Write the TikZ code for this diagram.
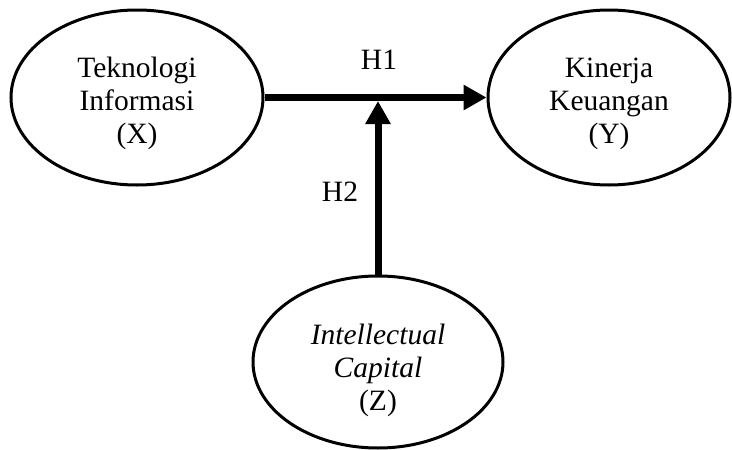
\documentclass[tikz,border=0pt]{standalone}
\usepackage{fontspec}
\setmainfont{Liberation Serif}
\usetikzlibrary{shapes.geometric,arrows.meta,calc}
\begin{document}
\begin{tikzpicture}[x=1pt,y=-1pt,
  var/.style={draw=black, line width=3pt, ellipse, inner sep=0pt},
  vtext/.style={align=center, inner sep=0pt, font=\fontsize{29.5}{33}\selectfont},
  lab/.style={inner sep=0pt, font=\fontsize{29.5}{33}\selectfont},
  conn/.style={line width=7pt, -{Triangle[length=23pt,width=24pt]}}
]
\useasboundingbox (0,0) rectangle (732,450);
\node[var, minimum width=252pt, minimum height=175pt] (X) at (137,97.5) {};
\node[var, minimum width=242pt, minimum height=175pt] (Y) at (609,97.5) {};
\node[var, minimum width=250pt, minimum height=172pt] (Z) at (378,362) {};
\node[vtext] (Xt) at (137,103) {Teknologi\\Informasi\\(X)};
\node[vtext] (Yt) at (609,104) {Kinerja\\Keuangan\\(Y)};
\node[vtext] (Zt) at (378,370) {\textit{Intellectual}\\\textit{Capital}\\(Z)};
\coordinate (m) at (Z.north |- X.east);
\draw[conn] (X) -- (Y);
\draw[conn] (Z.north) -- ($(m)+(0,3.5)$);
\node[lab, anchor=base] (h1) at (379,69) {H1};
\node[lab, anchor=base] (h2) at (340,201) {H2};
\end{tikzpicture}
\end{document}
